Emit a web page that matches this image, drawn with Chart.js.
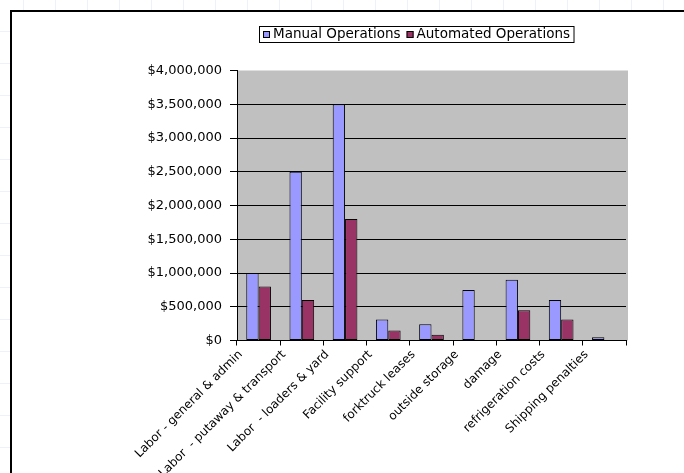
<!DOCTYPE html>
<html>
<head>
<meta charset="utf-8">
<script src="https://cdn.jsdelivr.net/npm/chart.js@4.4.0/dist/chart.umd.min.js"></script>
<style>
    html, body { margin: 0; padding: 0; }
    body {
        width: 684px; height: 473px; overflow: hidden; position: relative; background: #fff;
        /* faint spreadsheet cells behind the chart object */
        background-image: linear-gradient(to right, #eef1f9 1px, transparent 1px),
                          linear-gradient(to bottom, #eef1f9 1px, transparent 1px);
        background-size: 32px 32px;
        background-position: 23px 31px;
    }
    #frame {
        position: absolute; left: 10px; top: 10px; width: 720px; height: 520px;
        background: #fff; border-left: 2px solid #000; border-top: 2px solid #000;
    }
    #wrap { position: absolute; left: 0; top: 0; width: 684px; height: 473px; }
</style>
</head>
<body>
<div id="frame"></div>
<div id="wrap"><canvas id="graficoCustos"></canvas></div>
<script>
// Categories and series
const categorias = [
    'Labor - general & admin',
    'Labor  - putaway & transport',
    'Labor  - loaders & yard',
    'Facility support',
    'forktruck leases',
    'outside storage',
    'damage',
    'refrigeration costs',
    'Shipping penalties'
];
const custoManual = [1000000, 2500000, 3500000, 310000, 240000, 750000, 900000, 600000, 50000];
const custoAutomatizado = [800000, 600000, 1800000, 150000, 85000, 0, 450000, 310000, 0];
const nomesSeries = ['Manual Operations', 'Automated Operations'];

// Value axis ticks
const eixoYMin = 0;
const eixoYMax = 4000000;
const eixoYPasso = 500000;

const FONTE = '"DejaVu Sans", "Liberation Sans", Arial, sans-serif';

const formatarDolar = (valor) => '$' + Number(valor).toLocaleString('en-US');

// Gray plot area, Excel style
const fundoPlotagem = {
    id: 'fundoPlotagem',
    beforeDraw: (chart) => {
        const { ctx, chartArea: a } = chart;
        ctx.save();
        ctx.fillStyle = '#c0c0c0';
        ctx.fillRect(a.left, a.top, a.right - a.left + 2, a.bottom - a.top);
        ctx.restore();
    }
};

// Boxed legend at the top
const legendaCaixa = {
    id: 'legendaCaixa',
    afterDraw: (chart) => {
        const { ctx } = chart;
        ctx.save();
        ctx.font = '13.5px ' + FONTE;
        ctx.textBaseline = 'middle';
        ctx.lineWidth = 1;

        const inicio = 259.5;
        let x = inicio + 3.5;
        const itens = chart.data.datasets.map((ds) => {
            const item = { x, ds };
            x += 10 + ctx.measureText(ds.label).width + 6;
            return item;
        });
        const fim = x - 6 + 4;

        ctx.fillStyle = '#fff';
        ctx.fillRect(inicio, 26.5, fim - inicio, 16);
        ctx.strokeStyle = '#000';
        ctx.strokeRect(inicio, 26.5, fim - inicio, 16);

        itens.forEach(({ x: xi, ds }) => {
            ctx.fillStyle = ds.backgroundColor;
            ctx.fillRect(xi, 31, 7, 7);
            ctx.strokeRect(xi + 0.5, 31.5, 6, 6);
            ctx.fillStyle = '#000';
            ctx.fillText(ds.label, xi + 10, 34.5);
        });
        ctx.restore();
    }
};

const ctx = document.getElementById('graficoCustos').getContext('2d');

new Chart(ctx, {
    type: 'bar',
    data: {
        labels: categorias,
        datasets: [
            {
                label: nomesSeries[0],
                data: custoManual,
                backgroundColor: '#9999ff',
                borderColor: '#000',
                borderWidth: 1,
                borderSkipped: false
            },
            {
                label: nomesSeries[1],
                data: custoAutomatizado,
                backgroundColor: '#993366',
                borderColor: '#000',
                borderWidth: 1,
                borderSkipped: false
            }
        ]
    },
    options: {
        responsive: true,
        maintainAspectRatio: false,
        animation: false,
        layout: { padding: { top: 70.5, right: 58, left: 0, bottom: 0 } },
        datasets: {
            bar: { categoryPercentage: 2 / 3.5, barPercentage: 1 }
        },
        plugins: {
            legend: { display: false },
            tooltip: { enabled: false }
        },
        scales: {
            x: {
                ticks: {
                    color: '#000',
                    font: { family: FONTE, size: 12 },
                    minRotation: 45,
                    maxRotation: 45,
                    autoSkip: false,
                    labelOffset: -18,
                    padding: 2
                },
                grid: { offset: true, drawOnChartArea: false, color: '#000', tickLength: 5 },
                border: { color: '#000', width: 1 },
                afterFit: (escala) => { escala.height = 132.5; }
            },
            y: {
                min: eixoYMin,
                max: eixoYMax,
                ticks: {
                    stepSize: eixoYPasso,
                    color: '#000',
                    font: { family: FONTE, size: 13 },
                    padding: 8,
                    callback: (v) => formatarDolar(v)
                },
                grid: {
                    color: (c) => (c.tick && c.tick.value === eixoYMax ? 'rgba(0,0,0,0)' : '#000'),
                    tickColor: '#000',
                    tickLength: 7,
                    lineWidth: 1
                },
                border: { color: '#000', width: 1 },
                afterFit: (escala) => { escala.width = 237; }
            }
        }
    },
    plugins: [fundoPlotagem, legendaCaixa]
});
</script>
</body>
</html>
